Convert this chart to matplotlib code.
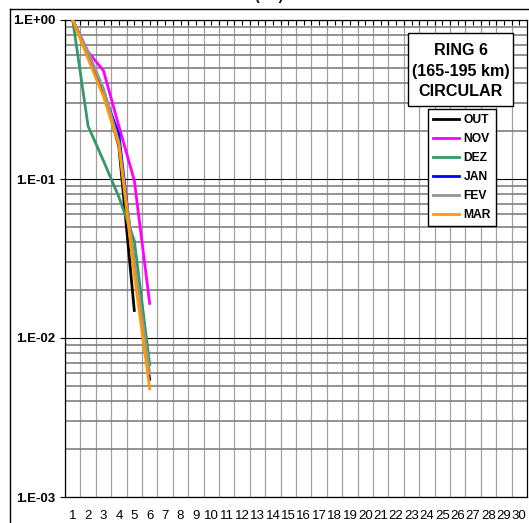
import math
import matplotlib
matplotlib.use("Agg")
import matplotlib.pyplot as plt
from matplotlib.ticker import FixedLocator, LogLocator, FuncFormatter
from matplotlib.patches import Rectangle
from matplotlib.lines import Line2D

plt.rcParams['font.family'] = ['Liberation Sans', 'DejaVu Sans']

# cumulative fraction per class, one series per month
classes = [1, 2, 3, 4, 5, 6]
out_vals = [1.0, 0.60, 0.36, 0.16, 0.0149]
nov_vals = [1.0, 0.63, 0.48, 0.215, 0.098, 0.0165]
dez_vals = [1.0, 0.215, 0.13, 0.077, 0.041, 0.0068]
jan_vals = [1.0, 0.61, 0.35, 0.19, 0.028, 0.0055]
fev_vals = [1.0, 0.63, 0.37, 0.17, 0.030, 0.0060]
mar_vals = [1.0, 0.57, 0.33, 0.164, 0.025, 0.0048]

series = [
    ("OUT", out_vals, "#000000"),
    ("NOV", nov_vals, "#FF00FF"),
    ("DEZ", dez_vals, "#339966"),
    ("JAN", jan_vals, "#0000FF"),
    ("FEV", fev_vals, "#969696"),
    ("MAR", mar_vals, "#FF9900"),
]

n_cat = 30
box_lines = ["RING 6", "(165-195 km)", "CIRCULAR"]

W, H = 529, 523
fig = plt.figure(figsize=(W / 100, H / 100), dpi=100)

def fx(px):
    return px / W

def fy(py):
    return 1 - py / H

left, right, top, bottom = 65, 527, 20, 497
ax = fig.add_axes([fx(left), fy(bottom), fx(right - left), (bottom - top) / H])

for name, vals, col in series:
    ax.plot(classes[:len(vals)], vals, color=col, lw=2.0, label=name,
            solid_joinstyle='round', zorder=3)

ax.set_yscale('log')
ax.set_ylim(1e-3, 1)
ax.set_xlim(0.5, n_cat + 0.5)

ax.xaxis.set_major_locator(FixedLocator(range(1, n_cat + 1)))
ax.xaxis.set_minor_locator(FixedLocator([k + 0.5 for k in range(n_cat)]))
ax.set_xticklabels([str(k) for k in range(1, n_cat + 1)], fontsize=9.5)
ax.tick_params(axis='x', which='both', bottom=False, top=True,
               direction='in', length=3.5, width=0.8, pad=9.5)

ax.yaxis.set_major_locator(LogLocator(base=10, numticks=10))
ax.yaxis.set_minor_locator(LogLocator(base=10, subs=range(2, 10), numticks=10))
ax.yaxis.set_major_formatter(FuncFormatter(
    lambda v, p: "1.E{:+03d}".format(int(round(math.log10(v))))))
ax.yaxis.set_minor_formatter(FuncFormatter(lambda v, p: ""))
ax.tick_params(axis='y', which='major', direction='out', length=3.5, width=0.8,
               pad=3.5, labelsize=9.5)
for lab in ax.get_yticklabels():
    lab.set_fontweight('bold')
ax.tick_params(axis='y', which='minor', length=0)

ax.grid(True, axis='y', which='major', color='#000000', lw=0.8, zorder=1)
ax.grid(True, axis='y', which='minor', color='#808080', lw=1.2, zorder=1)
ax.grid(True, axis='x', which='minor', color='#a0a0a0', lw=0.9, zorder=1)
ax.grid(False, axis='x', which='major')
for sp in ax.spines.values():
    sp.set_color('#000000')
    sp.set_linewidth(0.9)

# outer chart frame
fig.add_artist(Line2D([fx(10), fx(10)], [fy(9), 0], color='black', lw=1))
fig.add_artist(Line2D([fx(10), 1], [fy(9), fy(9)], color='black', lw=1))

# title, mostly above the frame
fig.text(fx(269), fy(0), "(km)", fontsize=10, fontweight='bold',
         ha='center', va='baseline')

# text box
bx0, by0, bx1, by1 = 408, 33, 513, 106
fig.add_artist(Rectangle((fx(bx0), fy(by1)), fx(bx1 - bx0), (by1 - by0) / H,
                         facecolor='white', edgecolor='black', lw=1,
                         transform=fig.transFigure, zorder=5))
for i, line in enumerate(box_lines):
    fig.text(fx(460.5), fy(50.5 + i * 20.7), line, fontsize=11.6,
             fontweight='bold', ha='center', va='center', zorder=6)

leg = ax.legend(loc='upper left', bbox_to_anchor=(fx(428), fy(109)),
                bbox_transform=fig.transFigure, frameon=True, fancybox=False,
                edgecolor='black', framealpha=1,
                prop={'weight': 'bold', 'size': 8.7},
                handlelength=2.2, handletextpad=0.33, labelspacing=0.58,
                borderpad=0.4, borderaxespad=0)
leg.get_frame().set_linewidth(1)
for h in leg.get_lines():
    h.set_linewidth(2.0)

fig.savefig("out.png", dpi=100)
